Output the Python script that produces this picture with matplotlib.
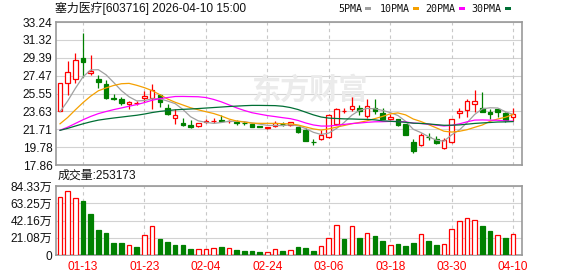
import numpy as np
import pandas as pd
import matplotlib
matplotlib.use("Agg")
import matplotlib.pyplot as plt
from matplotlib.patches import Rectangle

plt.rcParams['font.family'] = ['Liberation Sans', 'Noto Sans CJK SC']

W, H = 578, 276
RED = '#ff0000'
GREEN = '#008000'

# daily K-line, 塞力医疗 603716
DATES = [
    '2026-01-08', '2026-01-09', '2026-01-12', '2026-01-13', '2026-01-14', '2026-01-15',
    '2026-01-16', '2026-01-19', '2026-01-20', '2026-01-21', '2026-01-22', '2026-01-23',
    '2026-01-26', '2026-01-27', '2026-01-28', '2026-01-29', '2026-01-30', '2026-02-02',
    '2026-02-03', '2026-02-04', '2026-02-05', '2026-02-06', '2026-02-09', '2026-02-10',
    '2026-02-11', '2026-02-12', '2026-02-13', '2026-02-24', '2026-02-25', '2026-02-26',
    '2026-02-27', '2026-03-02', '2026-03-03', '2026-03-04', '2026-03-05', '2026-03-06',
    '2026-03-09', '2026-03-10', '2026-03-11', '2026-03-12', '2026-03-13', '2026-03-16',
    '2026-03-17', '2026-03-18', '2026-03-19', '2026-03-20', '2026-03-23', '2026-03-24',
    '2026-03-25', '2026-03-26', '2026-03-27', '2026-03-30', '2026-03-31', '2026-04-01',
    '2026-04-02', '2026-04-03', '2026-04-07', '2026-04-08', '2026-04-09', '2026-04-10',
]
OPEN = [23.62, 26.63, 27.12, 29.34, 27.77, 27.09, 26.55, 25.08, 24.91, 24.37,
        24.50, 25.05, 25.05, 25.40, 24.01, 22.90, 22.37, 22.15, 22.08, 22.50,
        22.58, 22.70, 22.54, 22.45, 22.37, 22.29, 22.01, 21.86, 22.05, 22.30,
        22.12, 21.91, 21.62, 20.36, 20.68, 20.90, 22.29, 23.65, 23.84, 23.98,
        23.12, 23.94, 23.41, 22.80, 22.76, 22.29, 20.33, 20.04, 20.90, 20.62,
        19.65, 20.30, 23.41, 23.73, 24.37, 24.01, 23.55, 23.87, 23.44, 23.05]
HIGH = [26.66, 29.02, 29.88, 32.06, 29.67, 27.59, 26.98, 25.48, 25.16, 24.70,
        24.75, 25.83, 26.55, 25.48, 24.37, 23.87, 22.87, 22.69, 22.40, 22.76,
        22.87, 23.23, 22.72, 22.66, 22.58, 22.33, 22.05, 22.00, 22.58, 22.48,
        22.50, 22.00, 21.80, 20.62, 21.62, 23.30, 24.01, 23.94, 25.19, 24.33,
        24.94, 24.94, 23.94, 23.30, 22.83, 22.30, 20.68, 21.33, 21.26, 21.01,
        20.76, 22.85, 24.01, 24.91, 25.91, 25.73, 23.87, 23.90, 23.51, 23.98]
LOW = [23.62, 25.40, 26.63, 27.34, 27.55, 26.09, 24.94, 24.84, 24.30, 23.84,
       24.35, 24.65, 23.90, 24.05, 23.23, 22.26, 22.05, 21.86, 21.94, 22.37,
       22.33, 22.51, 22.40, 22.15, 22.15, 21.90, 21.90, 21.76, 22.00, 22.08,
       22.05, 21.33, 20.45, 20.04, 20.60, 20.79, 22.15, 23.45, 23.66, 23.26,
       22.87, 23.30, 22.80, 22.73, 22.05, 21.10, 19.18, 19.90, 20.51, 20.15,
       19.60, 20.25, 22.90, 23.05, 23.55, 23.52, 22.83, 23.05, 22.51, 22.62]
CLOSE = [26.66, 27.81, 29.10, 28.91, 27.95, 26.77, 25.08, 24.94, 24.55, 24.62,
         24.58, 25.27, 25.88, 24.59, 23.37, 23.19, 22.15, 21.97, 22.37, 22.56,
         22.64, 22.60, 22.62, 22.40, 22.33, 21.97, 21.95, 21.97, 22.33, 22.24,
         22.44, 21.40, 20.47, 20.33, 21.08, 23.19, 23.87, 23.72, 24.22, 23.69,
         24.22, 23.69, 22.83, 23.05, 22.12, 21.11, 19.40, 21.05, 20.83, 20.26,
         20.58, 22.80, 23.66, 24.73, 24.73, 23.58, 23.37, 23.55, 22.69, 23.30]
# closes before the first shown day, only needed to warm up the moving averages
PREV_CLOSE = [21.4, 21.6, 21.7, 21.5, 21.3, 21.5, 21.7, 21.6, 21.6, 21.7,
              21.3, 21.1, 20.9, 20.8, 20.7, 20.6, 20.8, 21.0, 20.9, 21.0,
              21.0, 20.9, 21.1, 21.0, 21.0, 22.0, 22.3, 22.7, 24.24]
# volume in 万手
VOLUME = [70.9, 77.8, 69.3, 66.0, 50.1, 30.6, 26.9, 14.7, 14.7, 11.8,
          9.8, 24.4, 35.0, 19.6, 15.9, 12.2, 12.2, 7.3, 6.9, 6.9,
          8.1, 9.8, 8.1, 6.1, 4.9, 4.9, 3.7, 3.3, 6.9, 4.9,
          5.7, 9.8, 8.6, 4.9, 10.6, 20.4, 36.3, 19.6, 35.0, 20.8,
          26.5, 23.2, 17.1, 11.8, 13.4, 11.0, 14.7, 25.3, 17.1, 12.2,
          13.0, 31.4, 41.1, 44.8, 42.4, 35.4, 29.3, 24.0, 20.8, 25.3173]

MA_SETTINGS = [(5, '5PMA', '#a0a0a0'), (10, '10PMA', '#f5a000'),
               (20, '20PMA', '#ff00ff'), (30, '30PMA', '#006f35')]
PRICE_TICKS = [17.86, 19.78, 21.71, 23.63, 25.55, 27.47, 29.39, 31.32, 33.24]
VOL_TICKS = [0, 21.08, 42.16, 63.25, 84.33]


def px_box(left, top, right, bottom):
    """Pixel box (from top left) to figure fractions."""
    return [left / W, 1 - bottom / H, (right - left) / W, (bottom - top) / H]


def style_axes(ax):
    for sp in ax.spines.values():
        sp.set_color('#999999')
        sp.set_linewidth(1.2)
    ax.tick_params(length=0, labelsize=8.6, colors='#111111', pad=2.6)
    ax.set_facecolor('none')


opn = np.array(OPEN)
high = np.array(HIGH)
low = np.array(LOW)
close = np.array(CLOSE)
vol = np.array(VOLUME)
x = np.arange(len(DATES))

up = close >= opn
candle_col = np.where(up, RED, GREEN)
prev = np.r_[PREV_CLOSE[-1], close[:-1]]
vol_up = close >= prev
vol_col = np.where(vol_up, RED, GREEN)

all_close = pd.Series(PREV_CLOSE + CLOSE)

fig = plt.figure(figsize=(W / 100, H / 100), dpi=100)
ax = fig.add_axes(px_box(56, 22, 522, 165))
axv = fig.add_axes(px_box(56, 186, 522, 255), sharex=ax)

tick_idx = list(range(3, len(DATES), 8))

# price panel
for t in PRICE_TICKS:
    ax.axhline(t, color='#d2d2d2', lw=0.8, zorder=0)
for i in tick_idx:
    ax.axvline(i, color='#c8c8c8', lw=0.8, ls=(0, (3, 3)), zorder=0)
ax.text(0.545, 0.53, '东方财富', transform=ax.transAxes, fontsize=21,
        fontweight='bold', family='Noto Sans CJK SC', color='#ebebeb',
        ha='center', va='center', zorder=0.5)

ax.vlines(x, low, high, colors=candle_col, lw=0.9, zorder=2)
body_lo = np.minimum(opn, close)
body_h = np.abs(close - opn)
ax.bar(x, body_h, bottom=body_lo, width=0.6,
       facecolor=np.where(up, 'white', GREEN), edgecolor=candle_col,
       lw=0.9, zorder=3)

for n, name, col in MA_SETTINGS:
    ma = all_close.rolling(n).mean().to_numpy()[-len(DATES):]
    ax.plot(x, ma, color=col, lw=0.9, zorder=4)

ax.set_xlim(-0.52, 60.16)
ax.set_ylim(PRICE_TICKS[0], PRICE_TICKS[-1])
ax.set_yticks(PRICE_TICKS, [f'{t:.2f}' for t in PRICE_TICKS])
style_axes(ax)
ax.tick_params(axis='x', labelbottom=False)

# volume panel
for t in VOL_TICKS[1:]:
    axv.axhline(t, color='#d2d2d2', lw=0.8, zorder=0)
for i in tick_idx:
    axv.axvline(i, color='#c8c8c8', lw=0.8, ls=(0, (3, 3)), zorder=0)
axv.bar(x, vol, width=0.6, facecolor=np.where(vol_up, 'white', GREEN),
        edgecolor=vol_col, lw=0.9, zorder=3)
axv.set_ylim(0, VOL_TICKS[-1])
axv.set_yticks(VOL_TICKS, ['0'] + [f'{t:.2f}万' for t in VOL_TICKS[1:]])
axv.set_xticks(tick_idx, [DATES[i][5:] for i in tick_idx])
style_axes(axv)
axv.tick_params(axis='x', colors=RED, pad=4)

# header texts
fig.text(55 / W, 1 - 8.5 / H, '塞力医疗[603716] 2026-04-10 15:00',
         fontsize=8.6, va='center', ha='left', color='#111111')
fig.text(58 / W, 1 - 176 / H, f'成交量:{round(VOLUME[-1] * 10000)}',
         fontsize=8.6, va='center', ha='left', color='#111111')

legend_pos = [(338.3, 365), (380, 412.7), (425.7, 459), (471.7, 505)]
for (tx, mx), (n, name, col) in zip(legend_pos, MA_SETTINGS):
    fig.text(tx / W, 1 - 8.5 / H, name, fontsize=7.2, family='DejaVu Sans Mono',
             va='center', ha='left', color='#111111')
    fig.add_artist(Rectangle((mx / W, 1 - 10.3 / H), 6 / W, 3 / H,
                             transform=fig.transFigure, color=col, lw=0))

fig.savefig('out.png', dpi=100)
